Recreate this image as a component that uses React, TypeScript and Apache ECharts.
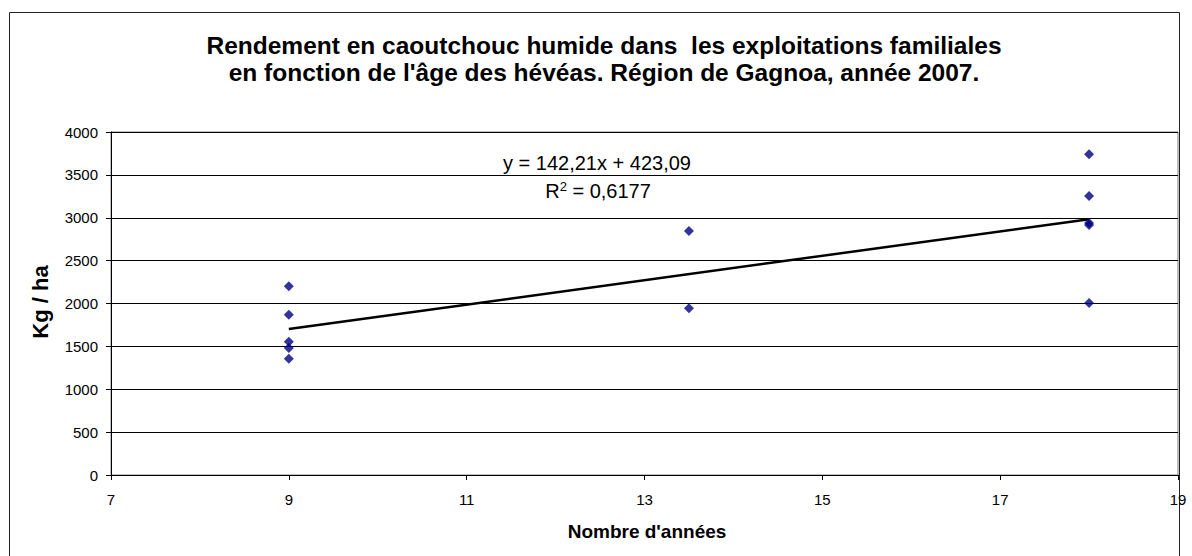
import React, { useEffect, useRef } from "react";
import * as echarts from "echarts";

const titleLines = [
  "Rendement en caoutchouc humide dans  les exploitations familiales",
  "en fonction de l'âge des hévéas. Région de Gagnoa, année 2007.",
];
const xAxisTitle = "Nombre d'années";
const yAxisTitle = "Kg / ha";

const ages = [9, 9, 9, 9, 9, 13.5, 13.5, 18, 18, 18, 18, 18];
const yields = [2200, 1870, 1555, 1480, 1355, 2845, 1945, 3740, 3255, 2940, 2915, 2005];

const slope = 142.21;
const intercept = 423.09;
const r2 = "0,6177";
const trendRange = [9, 18];

const equationText = "y = 142,21x + 423,09";

export default function App() {
  const ref = useRef<HTMLDivElement>(null);
  useEffect(() => {
    document.body.style.margin = "0";
    const chart = echarts.init(ref.current!, null, { renderer: "svg" });
    const font = "'Liberation Sans', Arial, sans-serif";
    const points = ages.map((a, i) => [a, yields[i]]);
    const trend = trendRange.map((x) => [x, slope * x + intercept]);
    chart.setOption({
      animation: false,
      backgroundColor: "#fff",
      textStyle: { fontFamily: font },
      grid: { left: 111, right: 14, top: 132, bottom: 81, show: true, borderColor: "#808080", borderWidth: 1 },
      xAxis: {
        type: "value",
        min: 7,
        max: 19,
        interval: 2,
        axisLine: { show: true, onZero: false, lineStyle: { color: "#000", width: 1 } },
        axisTick: { show: true, inside: false, length: 5, lineStyle: { color: "#000" } },
        axisLabel: { color: "#000", fontSize: 15, fontFamily: font, margin: 17, formatter: (v: number) => String(v) },
        splitLine: { show: false },
      },
      yAxis: {
        type: "value",
        min: 0,
        max: 4000,
        interval: 500,
        axisLine: { show: true, lineStyle: { color: "#000", width: 1 } },
        axisTick: { show: true, inside: false, length: 5, lineStyle: { color: "#000" } },
        axisLabel: { color: "#000", fontSize: 15, fontFamily: font, margin: 13, formatter: (v: number) => String(v) },
        splitLine: { show: true, lineStyle: { color: "#000", width: 1 } },
      },
      series: [
        {
          type: "line",
          data: trend,
          symbol: "none",
          lineStyle: { color: "#000", width: 2.5 },
          z: 3,
        },
        {
          type: "scatter",
          data: points,
          symbol: "diamond",
          symbolSize: 10,
          itemStyle: { color: "#000080" },
          z: 4,
        },
      ],
      graphic: [
        {
          type: "rect",
          shape: { x: 9.5, y: 12.5, width: 1170, height: 600 },
          style: { fill: "none", stroke: "#222", lineWidth: 1 },
          z: -1,
        },
        {
          type: "text",
          x: 604,
          y: 45.5,
          style: { text: titleLines[0], font: `bold 24.5px ${font}`, fill: "#000", align: "center", verticalAlign: "middle" },
        },
        {
          type: "text",
          x: 604,
          y: 72,
          style: { text: titleLines[1], font: `bold 24.5px ${font}`, fill: "#000", align: "center", verticalAlign: "middle" },
        },
        {
          type: "text",
          x: 597,
          y: 162.5,
          style: { text: equationText, font: `20px ${font}`, fill: "#000", align: "center", verticalAlign: "middle" },
        },
        {
          type: "text",
          x: 598,
          y: 191,
          style: {
            text: "R{sup|2} = " + r2,
            font: `20px ${font}`,
            fill: "#000",
            align: "center",
            verticalAlign: "middle",
            rich: {
              sup: { fontSize: 13, fontFamily: font, fill: "#000", verticalAlign: "top", padding: [0, 0, 9, 0] },
            },
          },
        },
        {
          type: "text",
          x: 40,
          y: 302,
          rotation: Math.PI / 2,
          style: { text: yAxisTitle, font: `bold 22px ${font}`, fill: "#000", align: "center", verticalAlign: "middle" },
        },
        {
          type: "text",
          x: 647,
          y: 531,
          style: { text: xAxisTitle, font: `bold 19px ${font}`, fill: "#000", align: "center", verticalAlign: "middle" },
        },
      ],
    });
    return () => chart.dispose();
  }, []);
  return <div ref={ref} style={{ width: 1192, height: 556 }} />;
}
